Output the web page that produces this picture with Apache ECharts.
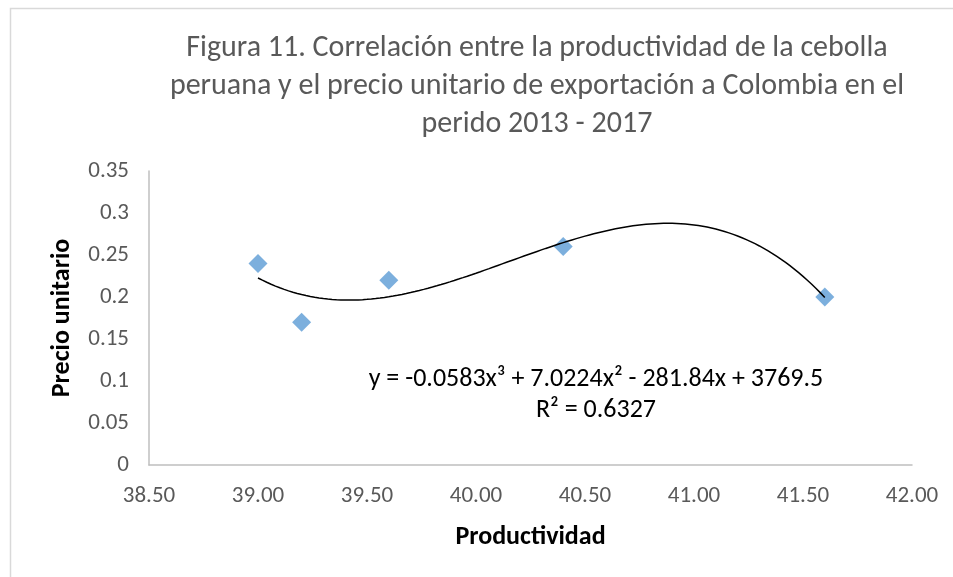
<!DOCTYPE html>
<html>
<head>
<meta charset="utf-8">
<script src="https://cdn.jsdelivr.net/npm/echarts@6/dist/echarts.min.js"></script>
<style>
  html, body { margin: 0; padding: 0; background: #fff; }
  #chart { width: 953px; height: 577px; }
</style>
</head>
<body>
<div id="chart"></div>
<script>
// datos
const productividad = [39.0, 39.2, 39.6, 40.4, 41.6];
const precioUnitario = [0.24, 0.17, 0.22, 0.26, 0.20];
const xTicks = [38.5, 39.0, 39.5, 40.0, 40.5, 41.0, 41.5, 42.0];
const yTicks = [0, 0.05, 0.1, 0.15, 0.2, 0.25, 0.3, 0.35];

const tituloLineas = [
  "Figura 11. Correlación entre la productividad de la cebolla",
  "peruana y el precio unitario de exportación a Colombia en el",
  "perido 2013 - 2017"
];
const ecuacion = "y = -0.0583x³ + 7.0224x² - 281.84x + 3769.5";
const rCuadrado = "R² = 0.6327";

const FONT = "Carlito, 'Liberation Sans Narrow', 'Open Sans', sans-serif";

// tendencia polinómica (grado 3) por mínimos cuadrados, x centrado
function ajustePolinomio(xs, ys, grado) {
  const m = xs.reduce((a, b) => a + b, 0) / xs.length;
  const n = grado + 1;
  const A = [];
  for (let i = 0; i < n; i++) {
    A.push(new Array(n + 1).fill(0));
  }
  xs.forEach((x, k) => {
    const t = x - m;
    for (let i = 0; i < n; i++) {
      for (let j = 0; j < n; j++) A[i][j] += Math.pow(t, i + j);
      A[i][n] += ys[k] * Math.pow(t, i);
    }
  });
  for (let i = 0; i < n; i++) {
    let p = i;
    for (let r = i + 1; r < n; r++) if (Math.abs(A[r][i]) > Math.abs(A[p][i])) p = r;
    [A[i], A[p]] = [A[p], A[i]];
    for (let r = 0; r < n; r++) {
      if (r === i) continue;
      const f = A[r][i] / A[i][i];
      for (let c = i; c <= n; c++) A[r][c] -= f * A[i][c];
    }
  }
  const coef = A.map((row, i) => row[n] / row[i]);
  return (x) => coef.reduce((s, c, i) => s + c * Math.pow(x - m, i), 0);
}

const f = ajustePolinomio(productividad, precioUnitario, 3);
const xMin = Math.min(...productividad);
const xMax = Math.max(...productividad);
const tendencia = [];
for (let i = 0; i <= 130; i++) {
  const x = xMin + (xMax - xMin) * i / 130;
  tendencia.push([x, f(x)]);
}

const myChart = echarts.init(document.getElementById("chart"));

const options = {
  animation: false,
  title: {
    text: tituloLineas.join("\n"),
    left: 532,
    top: 24,
    textAlign: "center",
    textStyle: {
      fontFamily: FONT,
      fontSize: 30,
      fontWeight: "normal",
      color: "#595959",
      lineHeight: 38,
      align: "center"
    }
  },
  grid: {
    left: 149,
    right: 953 - 912,
    top: 171,
    bottom: 577 - 465
  },
  xAxis: {
    type: "value",
    min: xTicks[0],
    max: xTicks[xTicks.length - 1],
    interval: 0.5,
    name: "Productividad",
    nameLocation: "middle",
    nameGap: 59,
    nameTextStyle: { fontFamily: FONT, fontSize: 26, fontWeight: "bold", color: "#000" },
    axisLine: { lineStyle: { color: "#bfbfbf", width: 1.5 } },
    axisTick: { show: false },
    splitLine: { show: false },
    axisLabel: {
      fontFamily: FONT, fontSize: 23, color: "#595959", margin: 20,
      formatter: (v) => v.toFixed(2)
    }
  },
  yAxis: {
    type: "value",
    min: yTicks[0],
    max: yTicks[yTicks.length - 1],
    interval: 0.05,
    name: "Precio unitario",
    nameLocation: "middle",
    nameGap: 74,
    nameTextStyle: { fontFamily: FONT, fontSize: 26, fontWeight: "bold", color: "#000" },
    axisLine: { show: true, lineStyle: { color: "#bfbfbf", width: 1.5 } },
    axisTick: { show: false },
    splitLine: { show: false },
    axisLabel: {
      fontFamily: FONT, fontSize: 23, color: "#595959", margin: 20,
      formatter: (v) => String(Math.round(v * 100) / 100)
    }
  },
  graphic: [
    {
      type: "rect",
      shape: { x: 10.5, y: 8.5, width: 960, height: 600 },
      style: { fill: "none", stroke: "#d9d9d9", lineWidth: 1.5 },
      silent: true
    },
    {
      type: "text",
      x: 596,
      y: 395,
      style: {
        text: ecuacion + "\n" + rCuadrado,
        fontFamily: FONT, fontSize: 26, fill: "#000",
        align: "center", verticalAlign: "middle", lineHeight: 31
      }
    }
  ],
  series: [
    {
      type: "line",
      data: tendencia,
      showSymbol: false,
      smooth: false,
      lineStyle: { color: "#000", width: 1.5 },
      z: 3
    },
    {
      type: "scatter",
      data: productividad.map((x, i) => [x, precioUnitario[i]]),
      symbol: "diamond",
      symbolSize: [19, 19],
      itemStyle: { color: "#5b9bd5" },
      z: 2
    }
  ]
};

myChart.setOption(options);
</script>
</body>
</html>
